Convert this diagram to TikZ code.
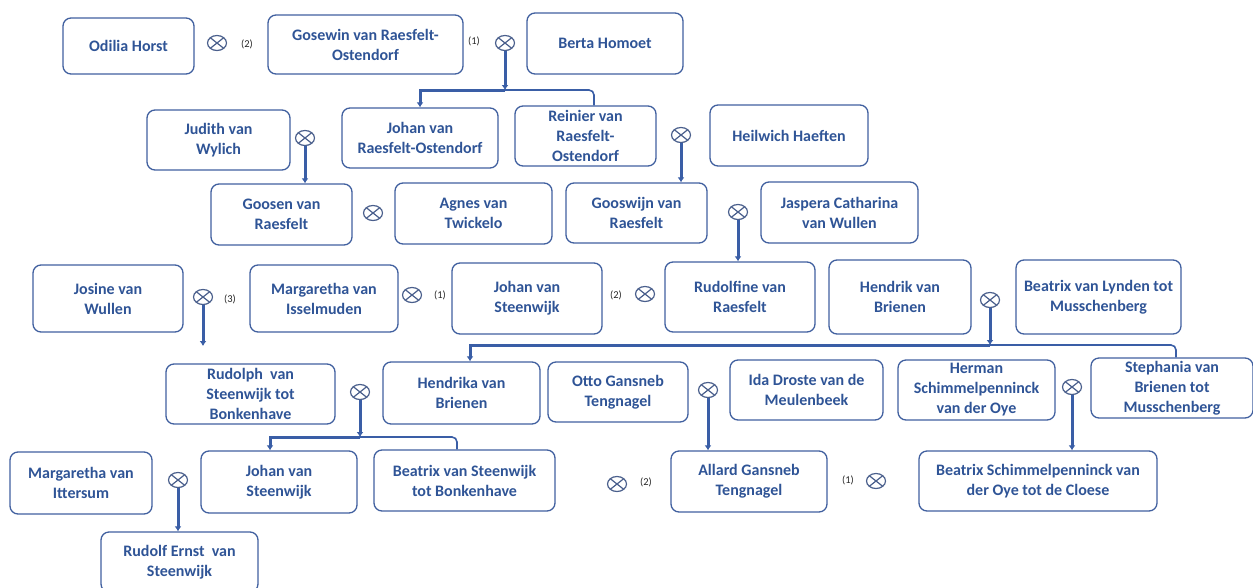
\documentclass[tikz,border=0pt]{standalone}
\usepackage{fontspec}
\setmainfont{Carlito}
\usetikzlibrary{arrows.meta,shapes.geometric}
\definecolor{boxblue}{HTML}{41609F}
\definecolor{nameblue}{HTML}{2F5496}
\definecolor{lineblue}{HTML}{3A5EA6}
\definecolor{wedgray}{HTML}{4A5F8C}
\tikzset{
  person/.style={draw=boxblue, line width=1.3pt, rounded corners=8pt, align=center,
    text=nameblue, font=\bfseries\fontsize{16}{20}\selectfont, inner sep=1pt},
  wed/.style={ellipse, draw=wedgray, line width=1.2pt, minimum width=19pt, minimum height=15pt, inner sep=0pt,
    path picture={\draw[wedgray, line width=1.2pt]
      (path picture bounding box.north west) -- (path picture bounding box.south east)
      (path picture bounding box.north east) -- (path picture bounding box.south west);}},
  order/.style={font=\fontsize{10.5}{12}\selectfont, text=black!85, inner sep=0pt},
  descent/.style={draw=lineblue, line width=3pt, -{Latex[length=5pt,width=7pt]}},
  sibling/.style={draw=lineblue, line width=1.6pt, rounded corners=5pt},
}
\begin{document}
\begin{tikzpicture}[x=1pt,y=-1pt]
  \useasboundingbox (0,0) rectangle (1253,587);
  \clip (0,0) rectangle (1253,587);
  % persons: name/x/y/width/height/text
  \foreach \n/\x/\y/\w/\h/\t in {
      odilia/128.5/46/131/56/{Odilia Horst},
      gosewin/365.5/44.5/195/59/{Gosewin van Raesfelt-\\Ostendorf},
      berta/605/43.5/156/61/{Berta Homoet},
      judith/218.5/140/143/60/{Judith van\\Wylich},
      johanRO/420/138/156/60/{Johan van\\Raesfelt-Ostendorf},
      reinier/585.5/136/141/60/{Reinier van\\Raesfelt-\\Ostendorf},
      heilwich/789/135.5/158/61/{Heilwich Haeften},
      goosen/281.5/214.5/141/61/{Goosen van\\Raesfelt},
      agnes/473.5/213.5/157/61/{Agnes van\\Twickelo},
      gooswijn/636.5/213/141/60/{Gooswijn van\\Raesfelt},
      jaspera/839.5/212.5/157/61/{Jaspera Catharina\\van Wullen},
      josine/108/298.5/150/67/{Josine van\\Wullen},
      margarethaI/324/298.5/148/67/{Margaretha van\\Isselmuden},
      johanS/527/298.5/150/71/{Johan van\\Steenwijk},
      rudolfine/740/297/150/70/{Rudolfine van\\Raesfelt},
      hendrik/900/297/142/74/{Hendrik van\\Brienen},
      beatrixL/1098.5/297/165/74/{Beatrix van Lynden tot\\Musschenberg},
      rudolph/250.5/394/169/60/{Rudolph\ \ van\\Steenwijk tot\\Bonkenhave},
      hendrika/461.5/393/157/62/{Hendrika van\\Brienen},
      otto/618/392/140/60/{Otto Gansneb\\Tengnagel},
      ida/806.5/390/153/60/{Ida Droste van de\\Meulenbeek},
      herman/976.5/390/157/60/{Herman\\Schimmelpenninck\\van der Oye},
      stephania/1172/388/162/60/{Stephania van\\Brienen tot\\Musschenberg},
      margarethaT/81/483/142/62/{Margaretha van\\Ittersum},
      johanSb/279/482/156/62/{Johan van\\Steenwijk},
      beatrixS/464.5/480.5/181/61/{Beatrix van Steenwijk\\tot Bonkenhave},
      allard/749/481.5/156/61/{Allard Gansneb\\Tengnagel},
      beatrixSO/1038/481/238/60/{Beatrix Schimmelpenninck van\\der Oye tot de Cloese},
      rudolfE/179.5/562/157/60/{Rudolf Ernst\ \ van\\Steenwijk}}
    \node[person, minimum width=\w pt, minimum height=\h pt] (\n) at (\x,\y) {\t};
  % marriages
  \foreach \n/\x/\y in {m1/217/43, m2/505/43, m3/305/138, m4/681/135, m5/373/213,
      m6/738/212, m7/203/297, m8/412/295, m9/645/294, m10/990/300, m11/360/392,
      m12/708/390, m13/1072/387, m14/178/480, m15/617/484, m16/876/481}
    \node[wed] (\n) at (\x,\y) {};
  % marriage order
  \foreach \n/\x/\y/\t in {o1/247/44/{(2)}, o2/474/41/{(1)}, o3/230/299/{(3)},
      o4/440/295/{(1)}, o5/616/295/{(2)}, o6/646/482/{(2)}, o7/848/480/{(1)}}
    \node[order] (\n) at (\x,\y) {\t};
  % descent
  \coordinate (j1) at (505,90);
  \coordinate (j2) at (990,345);
  \coordinate (j3) at (360,437);
  \coordinate (josineend) at (203,346);
  \draw[descent] (m2) -- (j1);
  \draw[descent] (j1) -| (johanRO.north);
  \draw[sibling] (j1) -| ([xshift=8.5pt]reinier.north);
  \draw[descent] (m3) -- (m3 |- goosen.north);
  \draw[descent] (m4) -- (m4 |- gooswijn.north);
  \draw[descent] (m6) -- (m6 |- rudolfine.north);
  \draw[descent] (m7) -- (josineend);
  \draw[descent] (m10) -- (j2);
  \draw[descent] (j2) -| ([xshift=8.5pt]hendrika.north);
  \draw[sibling] (j2) -| ([xshift=4pt]stephania.north);
  \draw[descent] (m11) -- (j3);
  \draw[descent] (j3) -| ([xshift=-9pt]johanSb.north);
  \draw[sibling] (j3) -| ([xshift=-7.5pt]beatrixS.north);
  \draw[descent] (m12) -- (m12 |- allard.north);
  \draw[descent] (m13) -- (m13 |- beatrixSO.north);
  \draw[descent] (m14) -- (m14 |- rudolfE.north);
\end{tikzpicture}
\end{document}
